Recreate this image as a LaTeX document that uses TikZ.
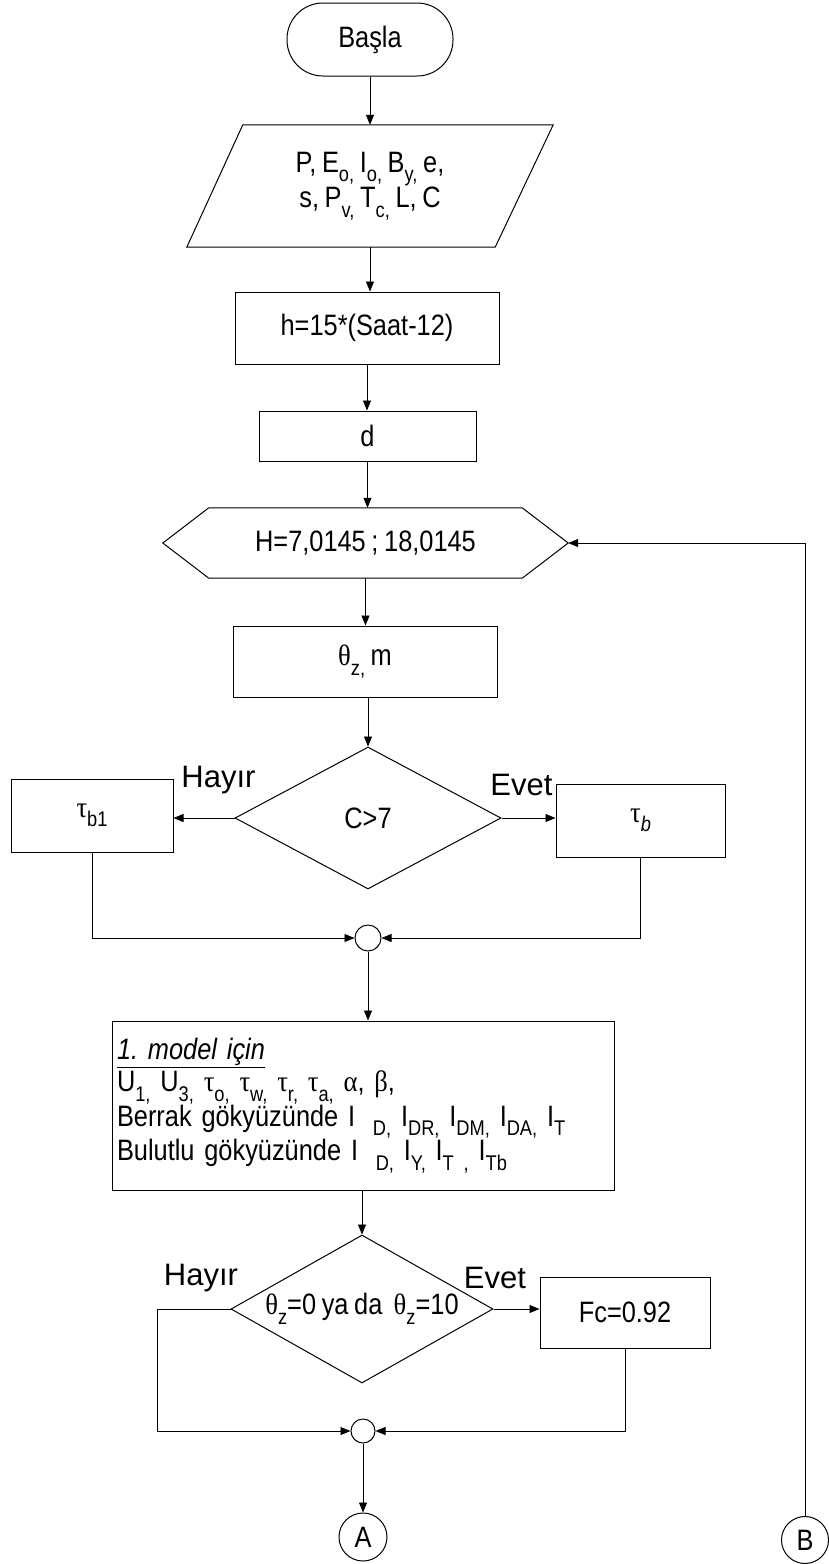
\documentclass[tikz,border=0pt]{standalone}
\usepackage{fontspec}
\setmainfont{Liberation Sans}[FakeStretch=0.86,WordSpace=0.8]
\newfontfamily\lblfont{Liberation Sans}
\newfontfamily\grk{Liberation Serif}[FakeStretch=0.9]
\usetikzlibrary{arrows.meta,shapes.geometric}
\newcommand{\sbx}[1]{\raisebox{-0.32em}{\scalebox{0.72}{#1}}}
\newcommand{\gtau}{{\grk τ}}
\newcommand{\gth}{{\grk θ}}
\newcommand{\gal}{{\grk α}}
\newcommand{\gbe}{{\grk β}}
\begin{document}
\begin{tikzpicture}[x=1pt,y=-1pt,
  every node/.style={font=\fontsize{29.5}{32}\selectfont},
  box/.style={draw, line width=1pt, rectangle, inner sep=0pt},
  dec/.style={draw, line width=1pt, diamond, inner sep=0pt},
  jn/.style={draw, line width=1pt, circle, inner sep=0pt},
  lbl/.style={font=\lblfont\fontsize{31}{31}\selectfont, anchor=base, inner sep=0pt},
  arr/.style={line width=0.8pt, -{Triangle[length=10pt,width=8pt]}},
  outl/.style={line width=1pt}
]
\useasboundingbox (0,0) rectangle (828,1564);

% nodes
\node[box, rounded corners=36pt, minimum width=166pt, minimum height=73pt] (start) at (370,39.5) {Başla};
\node[minimum width=366pt, minimum height=122pt, inner sep=0pt, align=center, font=\fontsize{29.5}{28}\selectfont] (inp) at (370,186)
  {P, E\sbx{o,} I\sbx{o,} B\sbx{y,} e,\\ s, P\sbx{v,} T\sbx{c,} L, C};
\draw[outl] ([xshift=56pt]inp.north west) -- (inp.north east) -- ([xshift=-58pt]inp.south east) -- (inp.south west) -- cycle;
\node[box, minimum width=264pt, minimum height=72pt] (hbox) at (367,328) {h=15*(Saat-12)};
\node[box, minimum width=217pt, minimum height=50pt] (dbox) at (367.5,436) {d};
\node[minimum width=405pt, minimum height=70pt, inner sep=0pt] (hex) at (365.5,543) {H=7,0145 ; 18,0145};
\draw[outl] (hex.west) -- ([xshift=46pt]hex.north west) -- ([xshift=-46pt]hex.north east) -- (hex.east)
  -- ([xshift=-46pt]hex.south east) -- ([xshift=46pt]hex.south west) -- cycle;
\node[box, minimum width=264pt, minimum height=71pt] (tz) at (365,661.5) {\gth\sbx{z,} m};
\node[dec, minimum width=266pt, minimum height=142pt, aspect=1.87] (c7) at (368,818) {C>7};
\node[box, minimum width=162pt, minimum height=73pt] (tb1) at (92,815.5) {\gtau\sbx{b1}};
\node[box, minimum width=169pt, minimum height=73pt] (tb) at (640.5,820.5) {\gtau\sbx{\textit{b}}};
\node[jn, minimum size=26pt] (m1) at (368,938) {};
\node[box, minimum width=502pt, minimum height=169pt, text width=492pt, align=left] (model) at (363,1105.5)
  {\underline{\textit{1.\ model için}}\\
   U\sbx{1,} U\sbx{3,} \gtau\sbx{o,} \gtau\sbx{w,} \gtau\sbx{r,} \gtau\sbx{a,} \gal, \gbe,\\
   Berrak gökyüzünde I\hspace{0.6em}\sbx{D,} I\sbx{DR,} I\sbx{DM,} I\sbx{DA,} I\sbx{T}\\
   Bulutlu gökyüzünde I\hspace{0.6em}\sbx{D,} I\sbx{Y,} I\sbx{T} \sbx{,} I\sbx{Tb}};
\node[dec, minimum width=262pt, minimum height=148pt, aspect=1.77] (d2) at (362,1309)
  {\gth\sbx{z}=0 ya da\ \ \gth\sbx{z}=10};
\node[box, minimum width=170pt, minimum height=71pt] (fc) at (625,1312.5) {Fc=0.92};
\node[jn, minimum size=24pt] (m2) at (363,1431) {};
\node[jn, minimum size=48pt] (ca) at (363,1537) {A};
\node[jn, minimum size=47pt] (cb) at (805,1540) {B};
\coordinate (lc) at (157,1309);

% labels
\node[lbl] (hy1) at (218.5,787) {Hayır};
\node[lbl] (ev1) at (521.5,795) {Evet};
\node[lbl] (hy2) at (201,1285) {Hayır};
\node[lbl] (ev2) at (495,1288) {Evet};

% connectors
\draw[arr] (start.south) -- (start.south |- inp.north);
\draw[arr] (inp.south) -- (inp.south |- hbox.north);
\draw[arr] (hbox.south) -- (hbox.south |- dbox.north);
\draw[arr] (dbox.south) -- (dbox.south |- hex.north);
\draw[arr] (hex.south) -- (hex.south |- tz.north);
\draw[arr] (c7.north |- tz.south) -- (c7.north);
\draw[arr] (c7.west) -- (c7.west -| tb1.east);
\draw[arr] (c7.east) -- (c7.east -| tb.west);
\draw[arr] (tb1.south) |- (m1.west);
\draw[arr] (tb.south) |- (m1.east);
\draw[arr] (m1.south) -- (m1.south |- model.north);
\draw[arr] (d2.north |- model.south) -- (d2.north);
\draw[arr] (d2.east) -- (d2.east -| fc.west);
\draw[arr] (fc.south) |- (m2.east);
\draw[arr] (d2.west) -- (d2.west -| lc) |- (m2.west);
\draw[arr] (m2.south) -- (ca.north);
\draw[arr] (cb.north) |- (hex.east);
\end{tikzpicture}
\end{document}
